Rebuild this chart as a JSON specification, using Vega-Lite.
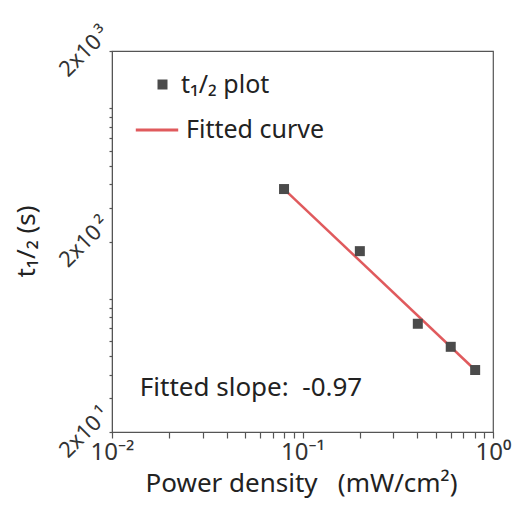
{
  "$schema": "https://vega.github.io/schema/vega-lite/v6.json",
  "width": 381,
  "height": 381,
  "autosize": "none",
  "padding": {"left": 112, "top": 51, "right": 29, "bottom": 77},
  "background": "white",
  "config": {
    "font": "Noto Sans",
    "view": {"stroke": "#555555", "strokeWidth": 1.2},
    "axis": {"grid": false, "domainColor": "#555555", "tickColor": "#555555", "labelColor": "#333333", "titleColor": "#222222", "titleFontWeight": "normal"}
  },
  "datasets": {
    "points": [
      {"x": 0.080, "y": 377, "series": "t₁/₂ plot"},
      {"x": 0.200, "y": 178, "series": "t₁/₂ plot"},
      {"x": 0.403, "y": 74, "series": "t₁/₂ plot"},
      {"x": 0.600, "y": 56, "series": "t₁/₂ plot"},
      {"x": 0.806, "y": 42.3, "series": "t₁/₂ plot"}
    ],
    "fit": [
      {"x": 0.080, "y": 377, "series": "Fitted curve"},
      {"x": 0.806, "y": 42.3, "series": "Fitted curve"}
    ],
    "note": [
      {"x": 0.014, "y": 34, "label": "Fitted slope:\u00a0 -0.97"}
    ]
  },
  "resolve": {
    "scale": {"color": "independent"}
  },
  "layer": [
    {
      "data": {"name": "fit"},
      "mark": {"type": "line", "strokeWidth": 2.5},
      "encoding": {
        "x": {"field": "x", "type": "quantitative", "scale": {"type": "log", "domain": [0.01, 1], "nice": false},
          "axis": {"orient": "bottom",
            "values": [0.01, 0.02, 0.03, 0.04, 0.05, 0.06, 0.07, 0.08, 0.09, 0.1, 0.2, 0.3, 0.4, 0.5, 0.6, 0.7, 0.8, 0.9, 1],
            "labelExpr": "datum.value == 0.01 ? '10⁻²' : (datum.value == 0.1 ? '10⁻¹' : (datum.value == 1 ? '10⁰' : ''))",
            "tickSize": 6,
            "tickWidth": 1.2,
            "encode": {"ticks": {"update": {"y2": {"signal": "(abs(log(datum.value)/log(10) - round(log(datum.value)/log(10))) < 0.01) ? 6 : 3"}}}},
            "labelFontSize": 24, "labelPadding": 2, "labelFlush": false, "labelOverlap": false,
            "title": "Power density\u00a0\u00a0\u00a0(mW/cm²)", "titleFontSize": 26,
            "titleX": 189, "titleY": 51, "titleAlign": "center", "titleBaseline": "middle"}},
        "y": {"field": "y", "type": "quantitative", "scale": {"type": "log", "domain": [20, 2000], "nice": false},
          "axis": {"orient": "left",
            "values": [20, 30, 40, 50, 60, 70, 80, 90, 100, 200, 300, 400, 500, 600, 700, 800, 900, 1000, 2000],
            "labelExpr": "datum.value == 20 ? '2x10\u2009¹' : (datum.value == 200 ? '2x10\u2009²' : (datum.value == 2000 ? '2x10\u2009³' : ''))",
            "tickSize": 3,
            "tickWidth": 1.2,
            "encode": {"ticks": {"update": {"x2": {"signal": "(abs(log(datum.value / 2)/log(10) - round(log(datum.value / 2)/log(10))) < 0.01) ? -6 : -3"}}}},
            "labelFontSize": 22, "labelAngle": -45, "labelAlign": "center", "labelBaseline": "middle",
            "labelPadding": 25, "labelFlush": false, "labelOverlap": false,
            "title": "t₁/₂ (s)", "titleFontSize": 26, "titleAngle": -90,
            "titleX": -86, "titleY": 190, "titleAlign": "center", "titleBaseline": "middle"}},
        "color": {"field": "series", "type": "nominal", "scale": {"range": ["#e05a5d"]},
          "legend": {"orient": "none", "legendX": 22, "legendY": 56, "symbolType": "stroke", "symbolSize": 1800,
            "symbolStrokeWidth": 3, "labelFontSize": 25, "labelOffset": 6, "title": null, "padding": 0, "labelColor": "#222222"}}
      }
    },
    {
      "data": {"name": "points"},
      "mark": {"type": "point", "shape": "square", "filled": true, "size": 100, "opacity": 1},
      "encoding": {
        "x": {"field": "x", "type": "quantitative", "scale": {"type": "log", "domain": [0.01, 1], "nice": false}},
        "y": {"field": "y", "type": "quantitative", "scale": {"type": "log", "domain": [20, 2000], "nice": false}},
        "color": {"field": "series", "type": "nominal", "scale": {"range": ["#4b4b4b"]},
          "legend": {"orient": "none", "legendX": 38, "legendY": 21, "symbolType": "square", "symbolSize": 100,
            "symbolOpacity": 1, "labelFontSize": 25, "labelOffset": 6, "title": null, "padding": 0, "labelColor": "#222222"}}
      }
    },
    {
      "data": {"name": "note"},
      "mark": {"type": "text", "align": "left", "baseline": "middle", "fontSize": 26, "color": "#222222"},
      "encoding": {
        "x": {"field": "x", "type": "quantitative", "scale": {"type": "log", "domain": [0.01, 1], "nice": false}},
        "y": {"field": "y", "type": "quantitative", "scale": {"type": "log", "domain": [20, 2000], "nice": false}},
        "text": {"field": "label"}
      }
    }
  ]
}
